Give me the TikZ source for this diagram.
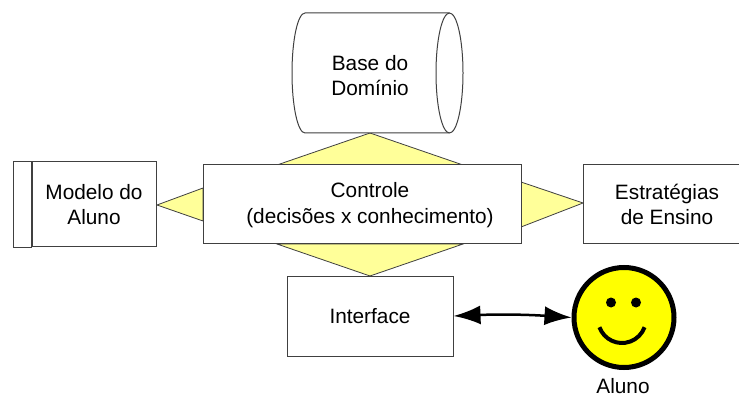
\documentclass[tikz,border=0pt]{standalone}
\usepackage{fontspec}
\setmainfont{Liberation Sans}
\usetikzlibrary{arrows.meta}
\definecolor{wedgeyellow}{HTML}{FFFF99}
\definecolor{faceyellow}{HTML}{FFFF00}
\definecolor{boxgray}{HTML}{404040}
\tikzset{
  modulebox/.style={draw=boxgray, line width=1pt, fill=white, align=center, inner sep=0pt},
  wedge/.style={draw=boxgray, line width=0.8pt, fill=wedgeyellow},
  outline/.style={draw=boxgray, line width=1pt, fill=white},
}
\begin{document}
\begin{tikzpicture}[x=1pt,y=-1pt,font=\fontsize{20.8}{25.5}\selectfont]
\clip (0,0) rectangle (739,398);
\fill[white] (0,0) rectangle (739,398);
\filldraw[wedge] (370,133) -- (463,165) -- (277,165) -- cycle;
\filldraw[wedge] (370,276) -- (463,244) -- (277,244) -- cycle;
\filldraw[wedge] (157,205) -- (203,188) -- (203,221) -- cycle;
\filldraw[wedge] (583,203) -- (521,182) -- (521,227) -- cycle;
\filldraw[outline] (305,13) -- (449.5,13) arc (-90:90:13.5 and 60) -- (305,133) arc (90:270:13 and 60) -- cycle;
\draw[outline, fill=none] (449.5,13) arc (270:90:13.5 and 60);
\node[align=center] (base) at (370,75.5) {Base do\\Domínio};
\node[modulebox, minimum width=318pt, minimum height=79pt] (controle) at (362,204.5) {};
\node[align=center] (controletexto) at (370,205) {Controle\\(decisões x conhecimento)};
\node[modulebox, minimum width=124pt, minimum height=85pt] (modelo) at (94,204.5) {Modelo do\\Aluno};
\draw[outline] (13,162) rectangle (modelo.south west);
\node[modulebox, minimum width=168pt, minimum height=79pt] (estrategias) at (667,204.5) {Estratégias\\de Ensino};
\node[modulebox, minimum width=166pt, minimum height=80pt] (interface) at (370,316) {Interface};
\node[circle, draw=black, line width=5pt, fill=faceyellow, minimum size=100pt] (aluno) at (624,317.5) {};
\fill ([shift={(-13,-15)}]aluno.center) circle (5);
\fill ([shift={(12,-15)}]aluno.center) circle (5);
\draw[line width=4pt] ([shift={(-2,1.5)}]aluno.center) ++(160:24) arc (160:20:24);
\node (nome) at (623,386) {Aluno};
\draw[{Latex[length=27pt,width=19pt]}-{Latex[length=27pt,width=19pt]}, line width=2.5pt] (interface.east) to[bend left=3] (aluno.west);
\end{tikzpicture}
\end{document}
